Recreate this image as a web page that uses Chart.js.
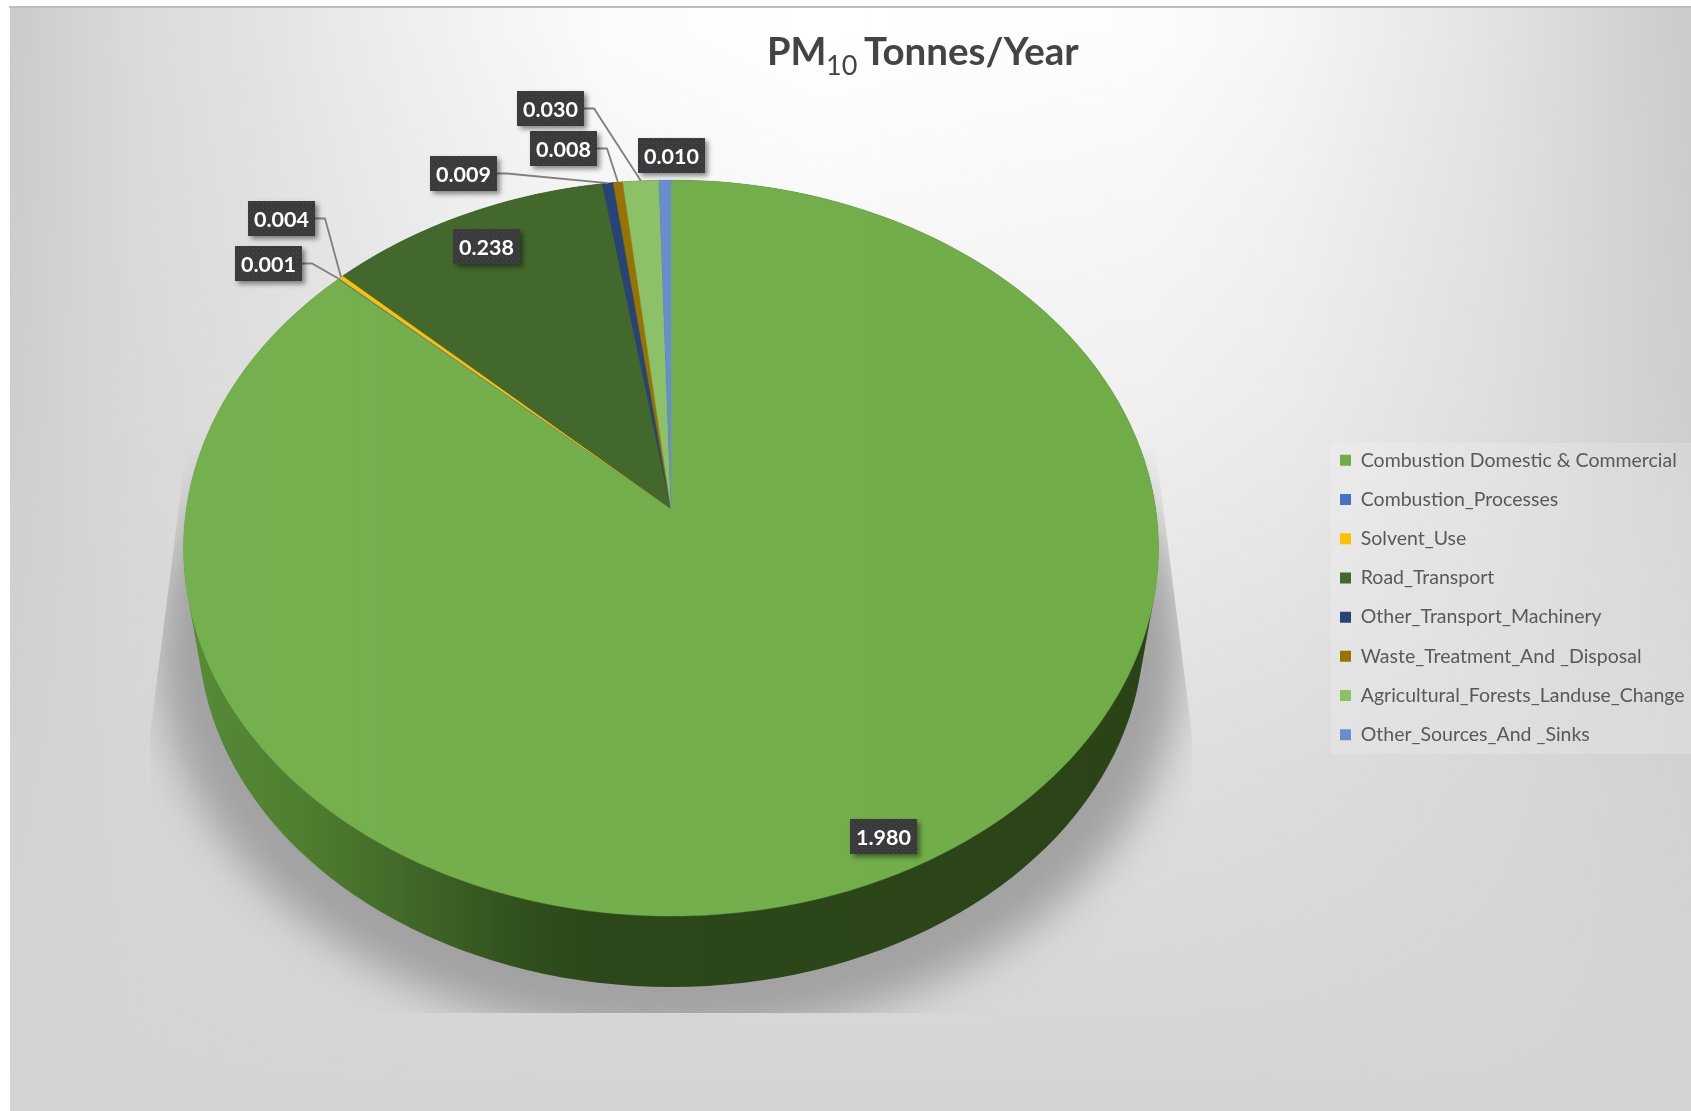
<!DOCTYPE html>
<html>
<head>
<meta charset="utf-8">
<style>html,body{margin:0;padding:0;background:#fff}canvas{display:block}</style>
<script src="https://cdn.jsdelivr.net/npm/chart.js@4"></script>
</head>
<body>
<canvas id="c" width="1691" height="1111" style="width:1691px;height:1111px"></canvas>
<script>
const categories = ['Combustion Domestic & Commercial','Combustion_Processes','Solvent_Use','Road_Transport','Other_Transport_Machinery','Waste_Treatment_And _Disposal','Agricultural_Forests_Landuse_Change','Other_Sources_And _Sinks'];
const seriesValues = [1.980,0.001,0.004,0.238,0.009,0.008,0.030,0.010];
const sliceColors = ['#70AD47','#4472C4','#FFC000','#43682B','#264478','#997300','#8CC168','#698ED0'];
const titleParts = ['PM','10','Tonnes/Year'];

// layout only: data label box position (left, top), and whether a leader is drawn
const labelLayout = [
  {x:850,y:819,leader:false},
  {x:235,y:246,leader:true},
  {x:248,y:201,leader:true},
  {x:453,y:229,leader:false},
  {x:430,y:156,leader:true},
  {x:530,y:131,leader:true},
  {x:517,y:91,leader:true},
  {x:638,y:138,leader:false}
];
const BOX_W = 67, BOX_H = 35;

// perspective of the pie's top face
const P = {cx:671, ay:509, m:484.7, k:363.9, w:0.106, ecy:548, lowerCy:630, lowerS:0.97};
function project(u,v){
  const d = 1 + P.w*v;
  return {x:P.cx + P.m*u/d, y:P.ay - P.k*v/d};
}
function angPoint(a){ return project(Math.cos(a), -Math.sin(a)); }

// the library's arc elements supply the angles; they are drawn in perspective
Chart.ArcElement.prototype.draw = function(ctx){
  const s = this.startAngle, e = this.endAngle;
  const n = Math.max(2, Math.ceil((e-s)/0.01));
  ctx.save();
  ctx.beginPath();
  const o = project(0,0);
  ctx.moveTo(o.x,o.y);
  for(let i=0;i<=n;i++){
    const p = angPoint(s+(e-s)*i/n);
    ctx.lineTo(p.x,p.y);
  }
  ctx.closePath();
  ctx.fillStyle = this.options.backgroundColor;
  ctx.fill();
  ctx.strokeStyle = this.options.backgroundColor;
  ctx.lineWidth = 0.4;
  ctx.stroke();
  if(e-s > Math.PI){
    const g = ctx.createLinearGradient(183,0,1158,0);
    g.addColorStop(0,'rgba(255,255,255,0.04)');
    g.addColorStop(0.55,'rgba(255,255,255,0.015)');
    g.addColorStop(1,'rgba(255,255,255,0)');
    ctx.fillStyle = g;
    ctx.fill();
  }
  ctx.restore();
};

const stage = {
  id:'stage',
  afterLayout(chart){
    const l = chart.legend;
    l.left = 1320.3; l.top = 430.9;
    l.right = l.left + l.width; l.bottom = l.top + l.height;
    l.adjustHitBoxes();
  },
  beforeDraw(chart){
    const c = chart.ctx;
    c.save();
    c.fillStyle = '#fff';
    c.fillRect(0,0,1691,1111);
    const X0 = 10, XW = 1681;
    const h = c.createLinearGradient(X0,0,X0+XW,0);
    [[10,'#cbcbcb'],[130,'#dadada'],[260,'#e3e3e3'],[400,'#eeeeee'],[600,'#fbfbfb'],[820,'#ffffff'],[1150,'#fcfcfc'],[1291,'#f5f5f5'],[1491,'#e3e3e3'],[1691,'#cbcbcb']]
      .forEach(s=>h.addColorStop((s[0]-X0)/XW,s[1]));
    c.fillStyle = h;
    c.fillRect(X0,7,XW,1104);
    const v = c.createLinearGradient(0,30,0,1100);
    [[30,0],[400,0.3],[770,0.75],[1100,1]].forEach(s=>v.addColorStop((s[0]-30)/1070,'rgba(212,212,212,'+s[1]+')'));
    c.fillStyle = v;
    c.fillRect(X0,7,XW,1104);
    c.fillStyle = '#bdbdbd';
    c.fillRect(X0-1,6,XW+1,2);
    // legend panel
    c.fillStyle = 'rgba(255,255,255,0.18)';
    c.fillRect(1331,443,360,311);
    c.restore();
  },
  beforeDatasetsDraw(chart){
    const c = chart.ctx;
    // cast shadow
    c.save();
    c.beginPath();
    c.moveTo(186,450);c.lineTo(1156,450);c.lineTo(1192,735);c.lineTo(1192,1013);c.lineTo(150,1013);c.lineTo(150,735);c.closePath();
    c.clip();
    c.filter = 'blur(20px)';
    c.fillStyle = '#a2a2a2';
    c.beginPath();
    c.ellipse(671,652,512,385,0,0,Math.PI*2);
    c.fill();
    c.restore();
    // side wall: rings between the top rim and the lower rim
    c.save();
    const g = c.createLinearGradient(183,0,1158,0);
    [[0,'#578c38'],[0.12,'#4f7f30'],[0.25,'#3f6426'],[0.34,'#31511e'],[0.42,'#2c4719'],[1,'#2a4418']].forEach(s=>g.addColorStop(s[0],s[1]));
    c.fillStyle = g;
    c.beginPath();
    const rings = 40, N = 180;
    for(let r=0;r<=rings;r++){
      const t = r/rings;
      const s = 1 + (P.lowerS-1)*t;
      const cy = P.ecy + (P.lowerCy-P.ecy)*t;
      for(let i=0;i<=N;i++){
        const p = angPoint(i/N*Math.PI*2);
        const x = P.cx + s*(p.x-P.cx), y = cy + s*(p.y-P.ecy);
        if(i===0) c.moveTo(x,y); else c.lineTo(x,y);
      }
      c.closePath();
    }
    c.fill();
    c.restore();
  },
  afterDatasetsDraw(chart){
    const c = chart.ctx;
    const arcs = chart.getDatasetMeta(0).data;
    const values = chart.data.datasets[0].data;
    // dotted label fill
    const pc = document.createElement('canvas');
    pc.width = 5; pc.height = 5;
    const px = pc.getContext('2d');
    px.fillStyle = '#3a3a3c'; px.fillRect(0,0,5,5);
    px.fillStyle = '#4b4b4e'; px.fillRect(1,1,1,1); px.fillRect(3,3,1,1);
    const pat = c.createPattern(pc,'repeat');
    // leaders
    c.save();
    c.strokeStyle = '#7f7f7f';
    c.lineWidth = 1.8;
    arcs.forEach((a,i)=>{
      const L = labelLayout[i];
      if(!L.leader) return;
      const end = angPoint((a.startAngle+a.endAngle)/2);
      const sy = L.y + BOX_H/2;
      c.beginPath();
      c.moveTo(L.x+BOX_W, sy);
      c.lineTo(L.x+BOX_W+10, sy);
      c.lineTo(end.x,end.y);
      c.stroke();
    });
    c.restore();
    // boxes and values
    arcs.forEach((a,i)=>{
      const L = labelLayout[i];
      c.save();
      c.shadowColor = 'rgba(0,0,0,0.45)';
      c.shadowBlur = 5; c.shadowOffsetX = 3; c.shadowOffsetY = 3;
      c.fillStyle = pat;
      c.fillRect(L.x,L.y,BOX_W,BOX_H);
      c.restore();
      c.save();
      c.fillStyle = '#ffffff';
      c.font = 'bold 21.5px Lato';
      c.textAlign = 'center';
      c.textBaseline = 'middle';
      c.fillText(values[i].toFixed(3), L.x+BOX_W/2, L.y+BOX_H/2+1.5);
      c.restore();
    });
    // title with subscript
    c.save();
    c.fillStyle = '#444444';
    c.textBaseline = 'alphabetic';
    c.font = 'bold 38px Lato';
    c.fillText(titleParts[0],767,65);
    c.font = 'bold 38.5px Lato';
    c.fillText(titleParts[2],864,65);
    c.font = '27px Lato';
    c.fillText(titleParts[1],826,75);
    c.restore();
  }
};

new Chart(document.getElementById('c'),{
  type:'pie',
  data:{labels:categories,datasets:[{data:seriesValues,backgroundColor:sliceColors,borderWidth:0}]},
  options:{
    responsive:false,
    animation:false,
    rotation:0,
    plugins:{
      tooltip:{enabled:false},
      title:{display:false},
      legend:{
        display:true,
        position:'right',
        align:'start',
        labels:{boxWidth:11,boxHeight:11,padding:19.7,color:'#595959',font:{family:'Lato',size:19.5}}
      }
    }
  },
  plugins:[stage]
});
</script>
</body>
</html>
